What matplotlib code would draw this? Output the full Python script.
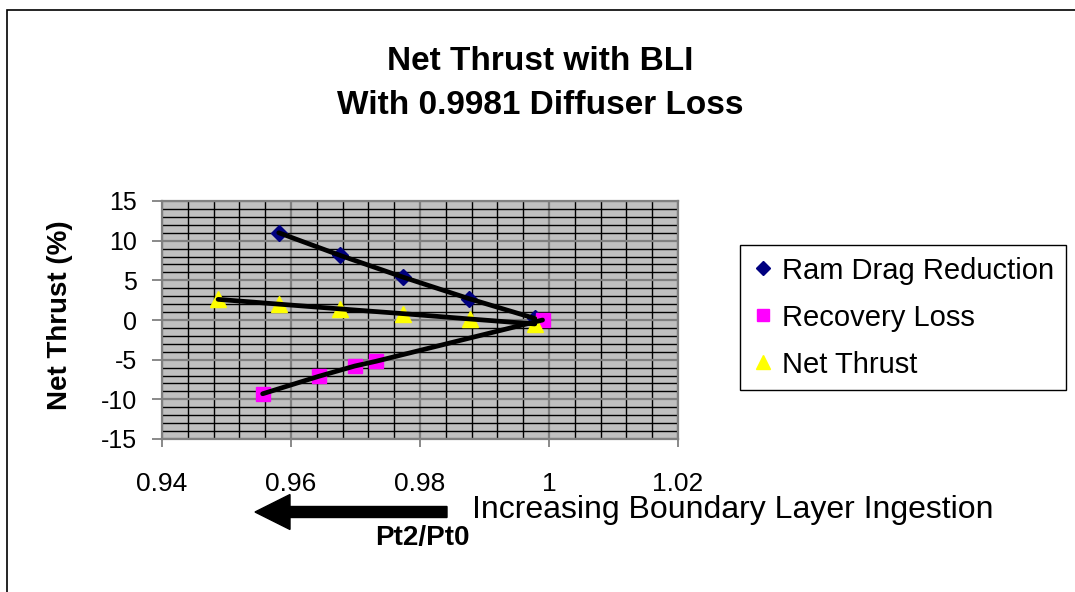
import numpy as np
import matplotlib
matplotlib.use("Agg")
import matplotlib.pyplot as plt
from matplotlib.ticker import MultipleLocator, FixedLocator
from matplotlib.patches import FancyArrow, Rectangle

plt.rcParams['font.family'] = ['Liberation Sans', 'DejaVu Sans']
plt.rcParams['axes.unicode_minus'] = False

# data (Pt2/Pt0 vs % thrust)
ram_x = [0.9581, 0.9676, 0.9773, 0.9876, 0.9978]
ram_y = [11.0, 8.15, 5.42, 2.69, 0.2]
loss_x = [0.9556, 0.9643, 0.9699, 0.9732, 0.9990]
loss_y = [-9.3, -7.1, -5.8, -5.2, 0.0]
net_x = [0.9487, 0.9581, 0.9676, 0.9774, 0.9877, 0.9978]
net_y = [2.6, 2.0, 1.4, 0.8, 0.13, -0.5]

x_ticks = [0.94, 0.96, 0.98, 1.00, 1.02]
x_labels = ['0.94', '0.96', '0.98', '1', '1.02']
y_ticks = [-15, -10, -5, 0, 5, 10, 15]

W, H = 1075, 592
fig = plt.figure(figsize=(W / 100, H / 100), dpi=100)
fig.patch.set_facecolor('white')

# chart border (runs off the right and bottom edges)
fig.add_artist(Rectangle((7 / W, -0.05), 1.2, (H - 10) / H + 0.05, transform=fig.transFigure,
                         fill=False, edgecolor='black', linewidth=1.2))

# plot area in pixels: left 162, right 678, top 201, bottom 439
ax = fig.add_axes([162 / W, (H - 439) / H, (678 - 162) / W, (439 - 201) / H])
ax.set_facecolor('#c0c0c0')
ax.set_xlim(0.94, 1.02)
ax.set_ylim(-15, 15)

ax.xaxis.set_major_locator(FixedLocator(x_ticks))
ax.set_xticklabels(x_labels)
ax.set_yticks(y_ticks)
ax.xaxis.set_minor_locator(MultipleLocator(0.004))
ax.yaxis.set_minor_locator(MultipleLocator(1))
ax.set_axisbelow(True)
ax.grid(which='minor', color='black', linewidth=1.0)
ax.grid(which='major', color='#808080', linewidth=1.6)
ax.tick_params(which='minor', length=0)
ax.tick_params(axis='x', which='major', length=6, width=1.3, color='#808080',
               labelsize=19, pad=18)
ax.tick_params(axis='y', which='major', length=7, width=1.3, color='#808080',
               labelsize=18, pad=11)
for s in ax.spines.values():
    s.set_color('#808080')
    s.set_linewidth(1.6)

# markers
ax.plot(ram_x, ram_y, linestyle='none', marker='D', markersize=8.5, color='#000080',
        label='Ram Drag Reduction', zorder=3)
ax.plot(loss_x, loss_y, linestyle='none', marker='s', markersize=10.5, color='#ff00ff',
        label='Recovery Loss', zorder=3)
ax.plot(net_x, net_y, linestyle='none', marker='^', markersize=11.5, color='#ffff00',
        label='Net Thrust', zorder=3)

# black connecting lines drawn over the markers
for xs, ys in [(ram_x, ram_y), (loss_x, loss_y), (net_x, net_y)]:
    ax.plot(xs, ys, color='black', linewidth=3.4, solid_capstyle='round', zorder=4)

leg = ax.legend(loc='upper left', bbox_to_anchor=(740 / W, 1 - 245 / H),
                bbox_transform=fig.transFigure, borderaxespad=0, fontsize=21,
                frameon=True, fancybox=False, edgecolor='black', framealpha=1,
                handlelength=0.75, handletextpad=0.3, labelspacing=0.65,
                borderpad=0.4, markerscale=0.85)
leg.get_frame().set_linewidth(1.0)

# titles and labels
fig.text(540 / W, 1 - 62 / H, 'Net Thrust with BLI', ha='center', va='center',
         fontsize=24, fontweight='bold')
fig.text(540 / W, 1 - 106 / H, 'With 0.9981 Diffuser Loss', ha='center', va='center',
         fontsize=24, fontweight='bold')
fig.text(60 / W, 1 - 315 / H, 'Net Thrust (%)', rotation=90, ha='center', va='center',
         fontsize=20, fontweight='bold')

fig.text(472 / W, 1 - 510 / H, 'Increasing Boundary Layer Ingestion', ha='left',
         va='center', fontsize=23)
fig.text(422 / W, 1 - 538 / H, 'Pt2/Pt0', ha='center', va='center', fontsize=20,
         fontweight='bold')

# arrow pointing left, in inches
fig.add_artist(FancyArrow(4.47, (H - 512) / 100, -1.92, 0, width=0.11, head_width=0.35,
                          head_length=0.35, length_includes_head=True,
                          transform=fig.dpi_scale_trans, color='black'))

fig.savefig('out.png', dpi=100)
